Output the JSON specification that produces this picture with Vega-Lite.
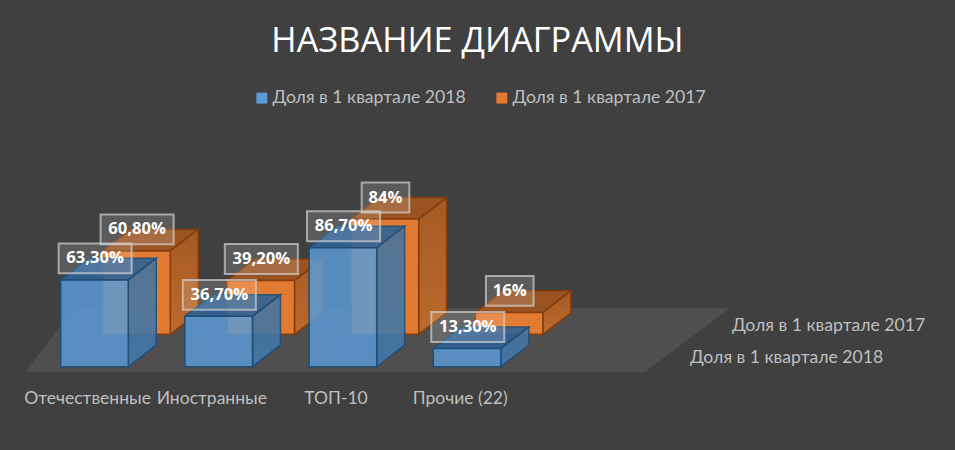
{
"$schema":"https://vega.github.io/schema/vega-lite/v6.json",
"width":955,"height":450,"padding":0,"autosize":"none","background":"#404040",
"title":{"text":"НАЗВАНИЕ ДИАГРАММЫ","anchor":"middle","frame":"group","font":"Open Sans","fontSize":34.3,"fontWeight":"normal","color":"#ffffff","offset":0,"dy":59},
"config":{"view":{"stroke":null}},
"datasets":{
"bars":[
{"category":"Отечественные","series":"Доля в 1 квартале 2017","value":60.8,"label":"60,80%"},
{"category":"Иностранные","series":"Доля в 1 квартале 2017","value":39.2,"label":"39,20%"},
{"category":"ТОП-10","series":"Доля в 1 квартале 2017","value":84,"label":"84%"},
{"category":"Прочие (22)","series":"Доля в 1 квартале 2017","value":16,"label":"16%"},
{"category":"Отечественные","series":"Доля в 1 квартале 2018","value":63.3,"label":"63,30%"},
{"category":"Иностранные","series":"Доля в 1 квартале 2018","value":36.7,"label":"36,70%"},
{"category":"ТОП-10","series":"Доля в 1 квартале 2018","value":86.7,"label":"86,70%"},
{"category":"Прочие (22)","series":"Доля в 1 квартале 2018","value":13.3,"label":"13,30%"}
],
"floor":[
{"px":-0.287,"low":-3.9,"high":-3.9},
{"px":0.111,"low":-3.9,"high":42.8},
{"px":4.705,"low":-3.9,"high":42.8},
{"px":5.39,"low":42.8,"high":42.8}
]},
"layer":[
{"data":{"name":"floor"},"mark":{"type":"area","orient":"vertical","fill":"#504e4e"},
 "encoding":{"x":{"field":"px","type":"quantitative","axis":null,"scale":{"domain":[-0.489,7.2],"range":[0,955],"nice":false,"zero":false}},"y":{"field":"low","type":"quantitative","axis":null,"scale":{"domain":[-60.7,267.3],"range":[450,0],"nice":false,"zero":false}},"y2":{"field":"high"}}},
{"data":{"name":"bars"},
 "transform":[
 {"calculate":"indexof(['Отечественные','Иностранные','ТОП-10','Прочие (22)'],datum.category)","as":"slot"},
 {"calculate":"datum.series=='Доля в 1 квартале 2017'?1:0","as":"back"},
 {"calculate":"datum.slot+datum.back*0.338","as":"x0"},
 {"calculate":"datum.x0+0.544","as":"x1"},
 {"calculate":"datum.back*23.6","as":"y0"},
 {"calculate":"datum.y0+datum.value","as":"top"},
 {"calculate":"(datum.x0+datum.x1)/2+0.005","as":"cx"},
 {"calculate":"datum.top+15.7","as":"cy"},
 {"calculate":"length(datum.label)>3?0.294:0.192","as":"hw"},
 {"calculate":"datum.cx-datum.hw","as":"bl"},
 {"calculate":"datum.cx+datum.hw","as":"br"},
 {"calculate":"datum.cy-10.9","as":"bb"},
 {"calculate":"datum.cy+10.9","as":"bt"},
 {"calculate":"datum.slot+0.216","as":"catx"},
 {"calculate":"-23.3","as":"caty"},
 {"calculate":"5.067+datum.back*0.338","as":"serx"},
 {"calculate":"6.3+datum.back*23.6","as":"sery"}
 ],
 "layer":[
 {"transform":[{"filter":"datum.back==1"},{"calculate":"[0,1,2,3]","as":"t"},{"flatten":["t"]},
   {"calculate":"datum.t==0?datum.x0:datum.t==1?datum.x0+0.225:datum.t==2?datum.x1:datum.x1+0.225","as":"vx"},
   {"calculate":"datum.t==3?datum.top+15.7:datum.top","as":"vl"},
   {"calculate":"datum.t==0?datum.top:datum.top+15.7","as":"vh"}],
  "mark":{"type":"area","orient":"vertical","fill":"#9a5423","stroke":"#843c0c","strokeWidth":1.5},
  "encoding":{"x":{"field":"vx","type":"quantitative"},"y":{"field":"vl","type":"quantitative"},"y2":{"field":"vh"},"detail":{"field":"category"}}},
 {"transform":[{"filter":"datum.back==1"},{"calculate":"[0,1]","as":"t"},{"flatten":["t"]},
   {"calculate":"datum.x1+datum.t*0.225","as":"vx"},
   {"calculate":"datum.y0+datum.t*15.7","as":"vl"},
   {"calculate":"datum.top+datum.t*15.7","as":"vh"}],
  "mark":{"type":"area","orient":"vertical","stroke":"#843c0c","strokeWidth":1.5,"fill":{"x1":0,"y1":0,"x2":0,"y2":1,"gradient":"linear","stops":[{"offset":0,"color":"#a55a24"},{"offset":1,"color":"#bd6a2c"}]}},
  "encoding":{"x":{"field":"vx","type":"quantitative"},"y":{"field":"vl","type":"quantitative"},"y2":{"field":"vh"},"detail":{"field":"category"}}},
 {"transform":[{"filter":"datum.back==1"}],
  "mark":{"type":"rect","stroke":"#843c0c","strokeWidth":1.5},
  "encoding":{"x":{"field":"x0","type":"quantitative"},"x2":{"field":"x1"},"y":{"field":"y0","type":"quantitative"},"y2":{"field":"top"},
   "fill":{"field":"series","type":"nominal","scale":{"domain":["Доля в 1 квартале 2018","Доля в 1 квартале 2017"],"range":["#5b9bd5","#e27a32"]},
    "legend":{"title":null,"orient":"none","legendX":253,"legendY":89,"direction":"horizontal","columns":2,"symbolType":"square","symbolSize":120,"symbolOpacity":1,"symbolStrokeWidth":0,"labelFont":"Lato","labelFontSize":17.6,"labelColor":"#bfbfbf","labelLimit":300,"labelOffset":2,"columnPadding":27,"symbolOffset":0}}}},
 {"transform":[{"filter":"datum.back==0"},{"calculate":"[0,1,2,3]","as":"t"},{"flatten":["t"]},
   {"calculate":"datum.t==0?datum.x0:datum.t==1?datum.x0+0.225:datum.t==2?datum.x1:datum.x1+0.225","as":"vx"},
   {"calculate":"datum.t==3?datum.top+15.7:datum.top","as":"vl"},
   {"calculate":"datum.t==0?datum.top:datum.top+15.7","as":"vh"}],
  "mark":{"type":"area","orient":"vertical","fill":"#2f6396","stroke":"#1f4e79","strokeWidth":1.5,"opacity":0.9},
  "encoding":{"x":{"field":"vx","type":"quantitative"},"y":{"field":"vl","type":"quantitative"},"y2":{"field":"vh"},"detail":{"field":"category"}}},
 {"transform":[{"filter":"datum.back==0"},{"calculate":"[0,1]","as":"t"},{"flatten":["t"]},
   {"calculate":"datum.x1+datum.t*0.225","as":"vx"},
   {"calculate":"datum.y0+datum.t*15.7","as":"vl"},
   {"calculate":"datum.top+datum.t*15.7","as":"vh"}],
  "mark":{"type":"area","orient":"vertical","stroke":"#1f4e79","strokeWidth":1.5,"opacity":0.9,"fill":{"x1":0,"y1":0,"x2":0,"y2":1,"gradient":"linear","stops":[{"offset":0,"color":"#47749c"},{"offset":1,"color":"#4179ae"}]}},
  "encoding":{"x":{"field":"vx","type":"quantitative"},"y":{"field":"vl","type":"quantitative"},"y2":{"field":"vh"},"detail":{"field":"category"}}},
 {"transform":[{"filter":"datum.back==0"}],
  "mark":{"type":"rect","stroke":"#1f4e79","strokeWidth":1.5,"fillOpacity":0.85},
  "encoding":{"x":{"field":"x0","type":"quantitative"},"x2":{"field":"x1"},"y":{"field":"y0","type":"quantitative"},"y2":{"field":"top"},
   "fill":{"field":"series","type":"nominal"}}},
 {"mark":{"type":"rect","fill":"#ffffff","fillOpacity":0.14,"stroke":"#d0d0d0","strokeOpacity":0.7,"strokeWidth":2},
  "encoding":{"x":{"field":"bl","type":"quantitative"},"x2":{"field":"br"},"y":{"field":"bb","type":"quantitative"},"y2":{"field":"bt"}}},
 {"mark":{"type":"text","font":"Open Sans","fontSize":16.6,"fontWeight":"bold","color":"#ffffff","align":"center","baseline":"middle"},
  "encoding":{"x":{"field":"cx","type":"quantitative"},"y":{"field":"cy","type":"quantitative"},"text":{"field":"label"}}},
 {"transform":[{"filter":"datum.back==0"}],
  "mark":{"type":"text","font":"Lato","fontSize":17.5,"color":"#bfbfbf","align":"center","baseline":"middle"},
  "encoding":{"x":{"field":"catx","type":"quantitative"},"y":{"field":"caty","type":"quantitative"},"text":{"field":"category"}}},
 {"transform":[{"filter":"datum.slot==3"}],
  "mark":{"type":"text","font":"Lato","fontSize":17.6,"color":"#bfbfbf","align":"left","baseline":"middle"},
  "encoding":{"x":{"field":"serx","type":"quantitative"},"y":{"field":"sery","type":"quantitative"},"text":{"field":"series"}}}
 ]}
]}
